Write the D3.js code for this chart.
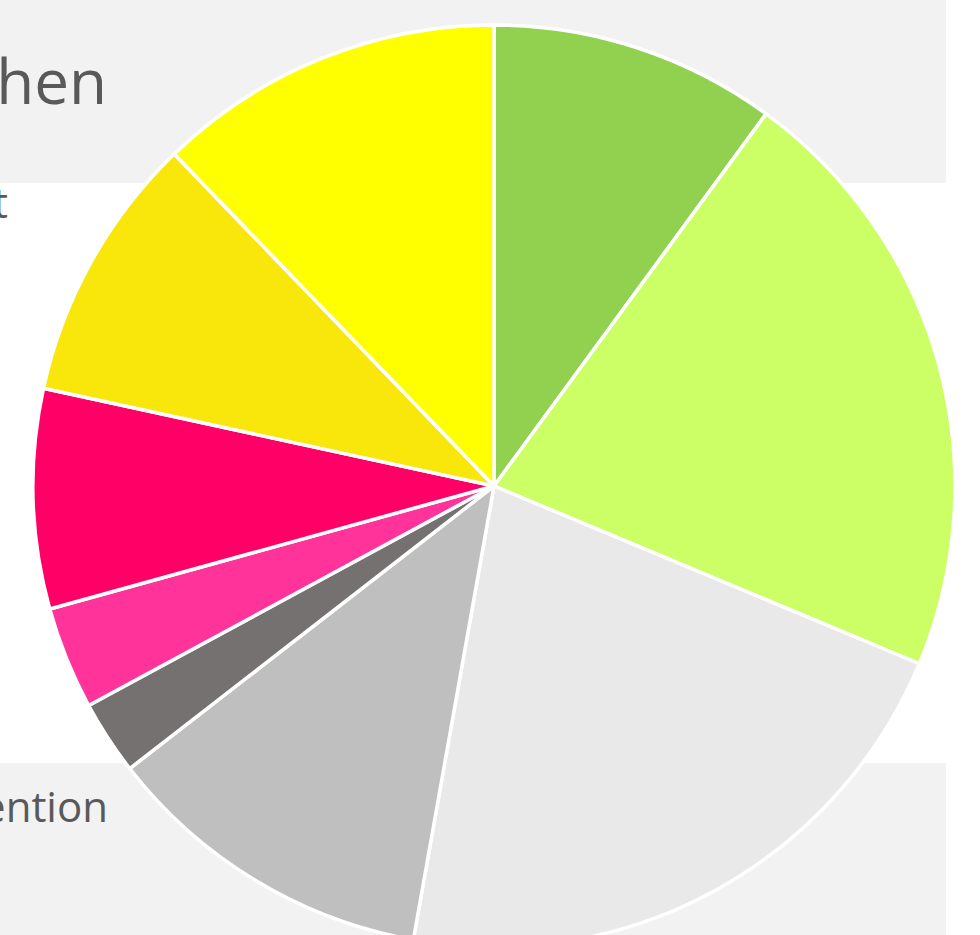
<!DOCTYPE html>
<html>
<head>
<meta charset="utf-8">
<script src="https://cdn.jsdelivr.net/npm/d3@7"></script>
<style>
  html, body { margin: 0; padding: 0; background: #ffffff; overflow: hidden; }
</style>
</head>
<body>
<div id="chart"></div>
<script>
// slice values, clockwise from 12 o'clock
let values = [10.05, 21.25, 21.5, 11.7, 2.6, 3.6, 7.7, 9.4, 12.2];
let colors = ["#92d050", "#ccff66", "#e9e9e9", "#bfbfbf", "#767171", "#ff3399", "#ff0066", "#f9e60b", "#ffff00"];
// clipped label fragments from the slide behind the chart
let labels = ["hen", "t", "ention"];

function drawPie() {
    let width = 980;
    let height = 935;

    let svg = d3.select("#chart")
        .append("svg")
        .attr("width", width)
        .attr("height", height);

    // grey bands behind
    svg.append("rect")
        .attr("x", 0).attr("y", 0)
        .attr("width", 946).attr("height", 183)
        .style("fill", "#f2f2f2");
    svg.append("rect")
        .attr("x", 0).attr("y", 763)
        .attr("width", 946).attr("height", 172)
        .style("fill", "#f2f2f2");

    // text fragments (cut off at the left edge, as in the slide)
    svg.append("text")
        .attr("x", 107).attr("y", 104)
        .attr("text-anchor", "end")
        .style("font-family", "'Open Sans', sans-serif")
        .style("font-size", "62px")
        .style("fill", "#595959")
        .text(labels[0]);
    svg.append("text")
        .attr("x", 8).attr("y", 218)
        .attr("text-anchor", "end")
        .style("font-family", "'Open Sans', sans-serif")
        .style("font-size", "42px")
        .style("fill", "#595959")
        .text(labels[1]);
    svg.append("text")
        .attr("x", 108).attr("y", 822)
        .attr("text-anchor", "end")
        .style("font-family", "'Open Sans', sans-serif")
        .style("font-size", "42px")
        .style("fill", "#595959")
        .text(labels[2]);

    let pie = d3.pie().sort(null).value(function(d) { return d; });
    let arc = d3.arc().innerRadius(0).outerRadius(461);

    let g = svg.append("g")
        .attr("transform", "translate(494,486)");

    g.selectAll("path")
        .data(pie(values))
        .enter().append("path")
        .attr("d", arc)
        .style("fill", function(d, i) { return colors[i]; })
        .style("stroke", "#ffffff")
        .style("stroke-width", 3.5)
        .style("stroke-linejoin", "round");
}

drawPie();
</script>
</body>
</html>
